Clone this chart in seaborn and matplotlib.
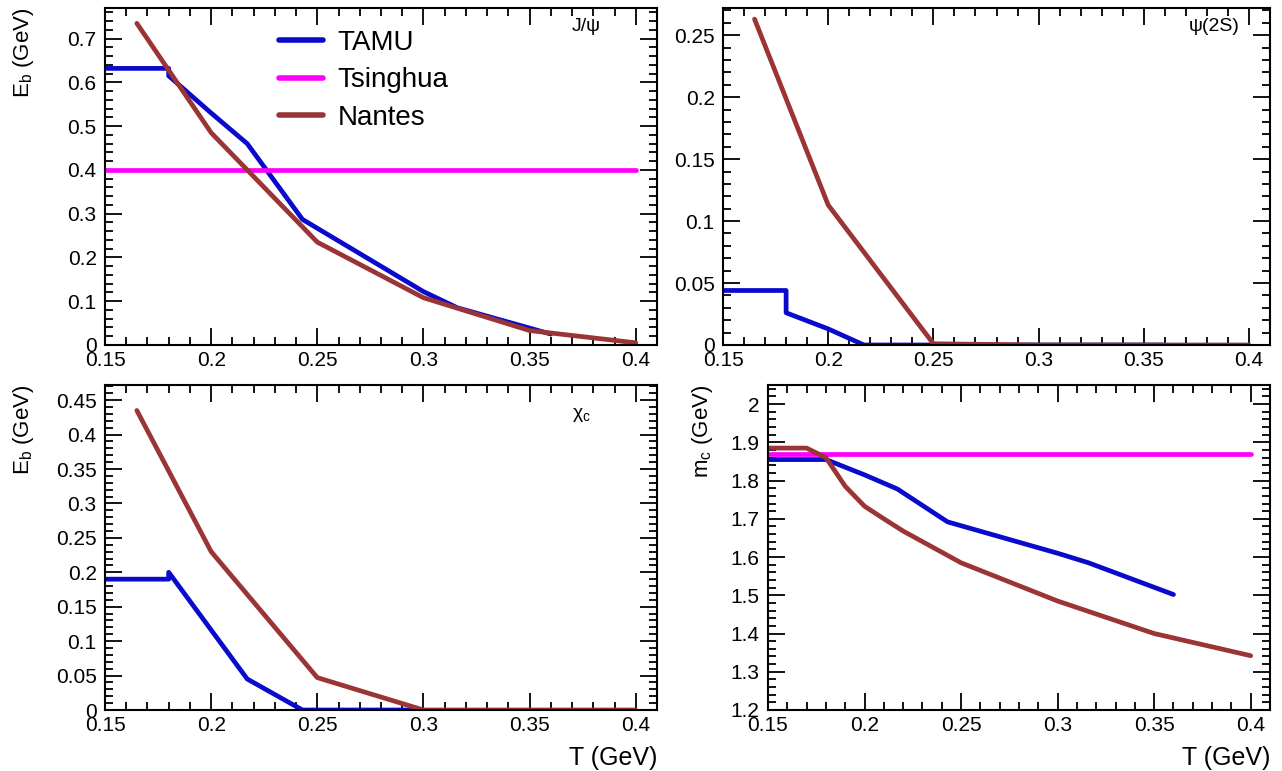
import matplotlib
matplotlib.use("Agg")
import matplotlib.pyplot as plt
import seaborn as sns
import pandas as pd
from matplotlib.ticker import MultipleLocator, FuncFormatter

# ---- data ----
# J/psi binding energy
jpsi_tamu_T = [0.15, 0.18, 0.18, 0.20, 0.217, 0.243, 0.30, 0.316, 0.36]
jpsi_tamu_E = [0.632, 0.632, 0.615, 0.53, 0.46, 0.287, 0.122, 0.085, 0.025]
jpsi_tsing_T = [0.15, 0.40]
jpsi_tsing_E = [0.40, 0.40]
jpsi_nantes_T = [0.165, 0.20, 0.25, 0.30, 0.35, 0.40]
jpsi_nantes_E = [0.735, 0.485, 0.235, 0.108, 0.033, 0.005]

# psi(2S) binding energy
psi2s_tamu_T = [0.15, 0.18, 0.18, 0.20, 0.217, 0.25, 0.30, 0.36]
psi2s_tamu_E = [0.044, 0.044, 0.026, 0.013, 0.0, 0.0, 0.0, 0.0]
psi2s_nantes_T = [0.165, 0.20, 0.25, 0.30, 0.35, 0.40]
psi2s_nantes_E = [0.263, 0.113, 0.001, 0.0, 0.0, 0.0]

# chi_c binding energy
chic_tamu_T = [0.15, 0.18, 0.18, 0.217, 0.243, 0.30]
chic_tamu_E = [0.19, 0.19, 0.20, 0.045, 0.0, 0.0]
chic_nantes_T = [0.165, 0.20, 0.25, 0.30, 0.35, 0.40]
chic_nantes_E = [0.435, 0.23, 0.047, 0.0, 0.0, 0.0]

# charm quark mass
mc_tamu_T = [0.15, 0.18, 0.20, 0.217, 0.243, 0.30, 0.316, 0.36]
mc_tamu_m = [1.855, 1.855, 1.815, 1.778, 1.692, 1.61, 1.585, 1.502]
mc_tsing_T = [0.15, 0.40]
mc_tsing_m = [1.87, 1.87]
mc_nantes_T = [0.15, 0.17, 0.18, 0.19, 0.20, 0.21, 0.22, 0.25, 0.30, 0.35, 0.40]
mc_nantes_m = [1.885, 1.885, 1.86, 1.785, 1.733, 1.70, 1.668, 1.585, 1.485, 1.40, 1.342]

models = ["TAMU", "Tsinghua", "Nantes"]
colors = {"TAMU": "#0a0acc", "Tsinghua": "#ff00ff", "Nantes": "#9b3434"}

sns.set_style("ticks")
plt.rcParams['font.family'] = ['Liberation Sans', 'DejaVu Sans']
plt.rcParams['mathtext.default'] = 'regular'
for key in ['text.color', 'axes.labelcolor', 'xtick.color', 'ytick.color', 'axes.edgecolor']:
    plt.rcParams[key] = 'black'

W, H = 1282, 771
fig = plt.figure(figsize=(W / 100, H / 100), dpi=100)


def make_df(series):
    rows = []
    for name, xs, ys in series:
        for x, y in zip(xs, ys):
            rows.append({"T": x, "val": y, "model": name})
    return pd.DataFrame(rows)


def px_axes(l, r, t, b):
    return fig.add_axes([l / W, 1 - b / H, (r - l) / W, (b - t) / H])


def style_axes(ax, ylim, ymaj, ymin):
    ax.set_xlim(0.15, 0.41)
    ax.set_ylim(*ylim)
    ax.xaxis.set_major_locator(MultipleLocator(0.05))
    ax.xaxis.set_minor_locator(MultipleLocator(0.01))
    ax.yaxis.set_major_locator(MultipleLocator(ymaj))
    ax.yaxis.set_minor_locator(MultipleLocator(ymin))
    fmt = FuncFormatter(lambda v, p: f"{round(v, 4):g}")
    ax.xaxis.set_major_formatter(fmt)
    ax.yaxis.set_major_formatter(fmt)
    ax.tick_params(which='both', direction='in', top=True, right=True,
                   labelsize=15, width=1.3, color='black')
    ax.tick_params(which='major', length=12)
    ax.tick_params(which='minor', length=6)
    ax.tick_params(axis='x', pad=4)
    ax.tick_params(axis='y', pad=6)
    for s in ax.spines.values():
        s.set_linewidth(1.5)
    ax.set_xlabel("")
    ax.set_ylabel("")


panels = [
    dict(pos=(105, 657, 8, 345), ylim=(0, 0.77), ymaj=0.1, ymin=0.02,
         data=[("TAMU", jpsi_tamu_T, jpsi_tamu_E),
               ("Tsinghua", jpsi_tsing_T, jpsi_tsing_E),
               ("Nantes", jpsi_nantes_T, jpsi_nantes_E)],
         tag="J/ψ", tagpos=(0.846, 0.944), ylabel="E$_b$ (GeV)", lx=-0.125,
         xlabel=None, legend=True),
    dict(pos=(723, 1270, 8, 345), ylim=(0, 0.272), ymaj=0.05, ymin=0.01,
         data=[("TAMU", psi2s_tamu_T, psi2s_tamu_E),
               ("Nantes", psi2s_nantes_T, psi2s_nantes_E)],
         tag="ψ(2S)", tagpos=(0.852, 0.944), ylabel=None, lx=None,
         xlabel=None, legend=False),
    dict(pos=(105, 657, 385, 710), ylim=(0, 0.472), ymaj=0.05, ymin=0.01,
         data=[("TAMU", chic_tamu_T, chic_tamu_E),
               ("Nantes", chic_nantes_T, chic_nantes_E)],
         tag="χ$_c$", tagpos=(0.846, 0.908), ylabel="E$_b$ (GeV)", lx=-0.125,
         xlabel="T (GeV)", legend=False),
    dict(pos=(768, 1270, 385, 710), ylim=(1.2, 2.05), ymaj=0.1, ymin=0.02,
         data=[("TAMU", mc_tamu_T, mc_tamu_m),
               ("Tsinghua", mc_tsing_T, mc_tsing_m),
               ("Nantes", mc_nantes_T, mc_nantes_m)],
         tag=None, tagpos=None, ylabel="m$_c$ (GeV)", lx=-0.105,
         xlabel="T (GeV)", legend=False),
]

for p in panels:
    ax = px_axes(*p["pos"])
    df = make_df(p["data"])
    order = [m for m in models if m in df["model"].unique()]
    sns.lineplot(data=df, x="T", y="val", hue="model", hue_order=order,
                 palette=colors, sort=False, estimator=None, linewidth=3.4,
                 ax=ax, legend=p["legend"])
    style_axes(ax, p["ylim"], p["ymaj"], p["ymin"])
    if p["tag"]:
        ax.text(*p["tagpos"], p["tag"], transform=ax.transAxes,
                fontsize=14, ha='left', va='center')
    if p["ylabel"]:
        ax.set_ylabel(p["ylabel"], fontsize=16, loc='top')
        ax.yaxis.set_label_coords(p["lx"], 1.0)
    if p["xlabel"]:
        ax.set_xlabel(p["xlabel"], fontsize=18, loc='right', labelpad=8)
    if p["legend"]:
        leg = ax.legend(loc='upper left', bbox_to_anchor=(0.27, 1.01),
                        frameon=False, fontsize=20, handlelength=1.6,
                        handletextpad=0.5, labelspacing=0.42)
        for ln in leg.get_lines():
            ln.set_linewidth(4)

fig.savefig("out.png", dpi=100)
